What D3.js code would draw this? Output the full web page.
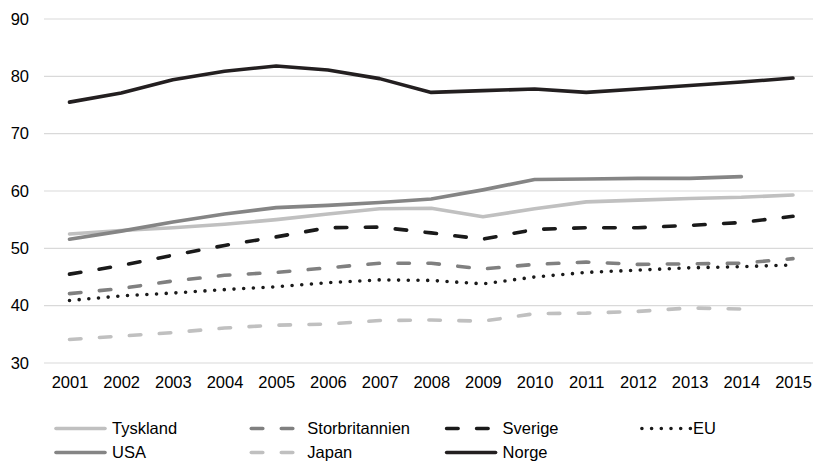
<!DOCTYPE html>
<html>
<head>
<meta charset="utf-8">
<script src="https://cdn.jsdelivr.net/npm/d3@7"></script>
<style>
  body { margin: 0; background: #fff; }
  svg { font-family: "Liberation Sans", Arial, sans-serif; }
</style>
</head>
<body>
<div id="chart"></div>
<script>
// data
const years = ["2001","2002","2003","2004","2005","2006","2007","2008","2009","2010","2011","2012","2013","2014","2015"];
const yTicks = [30, 40, 50, 60, 70, 80, 90];

const tyskland = [52.5, 53.1, 53.6, 54.2, 55.0, 56.0, 56.9, 57.0, 55.5, 56.9, 58.1, 58.4, 58.7, 58.9, 59.3];
const storbritannien = [42.1, 43.0, 44.3, 45.3, 45.8, 46.6, 47.4, 47.4, 46.4, 47.2, 47.6, 47.2, 47.3, 47.4, 48.2];
const sverige = [45.5, 47.0, 48.8, 50.5, 52.0, 53.6, 53.7, 52.7, 51.6, 53.3, 53.6, 53.6, 54.0, 54.5, 55.6];
const eu = [40.9, 41.7, 42.2, 42.8, 43.3, 44.0, 44.5, 44.4, 43.8, 45.0, 45.8, 46.2, 46.6, 46.8, 47.1];
const usa = [51.6, 53.0, 54.6, 56.0, 57.1, 57.5, 58.0, 58.6, 60.2, 62.0, 62.1, 62.2, 62.2, 62.5, null];
const japan = [34.1, 34.7, 35.3, 36.1, 36.6, 36.8, 37.4, 37.5, 37.3, 38.6, 38.7, 39.0, 39.6, 39.4, null];
const norge = [75.5, 77.1, 79.4, 80.9, 81.8, 81.1, 79.6, 77.2, 77.5, 77.8, 77.2, 77.8, 78.4, 79.0, 79.7];

// series order as in the legend (4 columns, 2 rows)
const series = [
    { name: "Tyskland", values: tyskland, color: "#c0c0c0", dash: null },
    { name: "Storbritannien", values: storbritannien, color: "#808080", dash: "11.5 18.5" },
    { name: "Sverige", values: sverige, color: "#1a1a1a", dash: "11.5 18.5" },
    { name: "EU", values: eu, color: "#1a1a1a", dash: "0 9.7" },
    { name: "USA", values: usa, color: "#858585", dash: null },
    { name: "Japan", values: japan, color: "#c0c0c0", dash: "11.5 18.5" },
    { name: "Norge", values: norge, color: "#231f20", dash: null }
];

const W = 813, H = 462;
const svg = d3.select("#chart").append("svg")
    .attr("width", W)
    .attr("height", H);

const x = d3.scalePoint()
    .domain(years)
    .range([69.5, 793]);

const y = d3.scaleLinear()
    .domain([30, 90])
    .range([363, 19]);

const gridLeft = 44, gridRight = 813;

// grid lines
svg.append("g")
    .selectAll("line")
    .data(yTicks)
    .enter()
    .append("line")
    .attr("x1", gridLeft)
    .attr("x2", gridRight)
    .attr("y1", d => y(d))
    .attr("y2", d => y(d))
    .attr("stroke", "#d9d9d9")
    .attr("stroke-width", 1.2);

// Y axis labels
svg.append("g")
    .attr("transform", "translate(" + 29 + ",0)")
    .call(d3.axisLeft(y).tickValues(yTicks).tickSize(0).tickPadding(0))
    .call(g => g.select(".domain").remove())
    .selectAll("text")
    .attr("font-size", 16.5)
    .attr("font-family", "Liberation Sans, Arial, sans-serif")
    .attr("fill", "#000");

// X axis labels
svg.append("g")
    .attr("transform", "translate(0," + 372 + ")")
    .call(d3.axisBottom(x).tickSize(0).tickPadding(4))
    .call(g => g.select(".domain").remove())
    .selectAll("text")
    .attr("font-size", 16.5)
    .attr("font-family", "Liberation Sans, Arial, sans-serif")
    .attr("fill", "#000");

const line = d3.line()
    .defined(d => d != null)
    .x((d, i) => x(years[i]))
    .y(d => y(d));

svg.append("g")
    .selectAll("path")
    .data(series)
    .enter()
    .append("path")
    .attr("d", d => line(d.values))
    .attr("fill", "none")
    .attr("stroke", d => d.color)
    .attr("stroke-width", 3.6)
    .attr("stroke-linecap", "round")
    .attr("stroke-linejoin", "round")
    .attr("stroke-dasharray", d => d.dash);

// legend
const legend = svg.append("g")
    .selectAll("g")
    .data(series)
    .enter()
    .append("g")
    .attr("transform", (d, i) => "translate(" + (56 + (i % 4) * 195.3) + "," + (428.5 + Math.floor(i / 4) * 24) + ")");

legend.append("line")
    .attr("x1", 0)
    .attr("x2", 49)
    .attr("y1", 0)
    .attr("y2", 0)
    .attr("stroke", d => d.color)
    .attr("stroke-width", 3.6)
    .attr("stroke-linecap", "round")
    .attr("stroke-dasharray", d => d.dash);

legend.append("text")
    .attr("x", d => d.name === "EU" ? 51 : 56)
    .attr("dy", "0.35em")
    .attr("font-size", 16.5)
    .attr("fill", "#000")
    .text(d => d.name);
</script>
</body>
</html>
